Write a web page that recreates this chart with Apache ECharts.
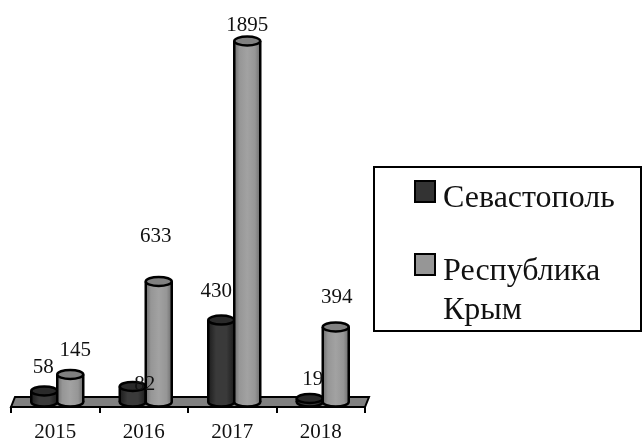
<!DOCTYPE html>
<html>
<head>
<meta charset="utf-8">
<title>chart</title>
<script src="https://cdn.jsdelivr.net/npm/echarts@6/dist/echarts.min.js"></script>
<style>
  html, body { margin: 0; padding: 0; background: #fff; }
  #chart { width: 642px; height: 441px; }
</style>
</head>
<body>
<div id="chart"></div>
<script>
const years = ['2015', '2016', '2017', '2018']
const sevastopol = [58, 82, 430, 19]
const crimea = [145, 633, 1895, 394]

const font = '"Liberation Serif", serif'
const { LinearGradient } = echarts.graphic

// the labels in the picture sit by hand around the bars, [dx, dy] from the bar top
const sevastopolLabelShift = [[-1, -23], [12, -2], [-5, -29], [3, -19]]
const crimeaLabelShift = [[5, -24], [-3, -45], [0, -16], [1, -29]]

const darkBody = new LinearGradient(0, 0, 1, 0, [
  { offset: 0, color: '#1c1c1c' },
  { offset: 0.3, color: '#3a3a3a' },
  { offset: 0.7, color: '#3a3a3a' },
  { offset: 1, color: '#1c1c1c' }
])
const lightBody = new LinearGradient(0, 0, 1, 0, [
  { offset: 0, color: '#6e6e6e' },
  { offset: 0.2, color: '#969696' },
  { offset: 0.5, color: '#a2a2a2' },
  { offset: 0.8, color: '#969696' },
  { offset: 1, color: '#6e6e6e' }
])

function cylinder (dx, body, top, shifts) {
  return (params, api) => {
    const i = api.value(0)
    const value = api.value(1)
    const base = api.coord([i, 0])
    const head = api.coord([i, value])
    const rx = 13
    const ry = 4.5
    const cx = base[0] + dx
    const line = { stroke: '#000', lineWidth: 2.5 }
    const shift = shifts[i]
    return {
      type: 'group',
      children: [
        { type: 'ellipse', shape: { cx, cy: base[1], rx, ry }, style: { fill: body, ...line } },
        { type: 'rect', shape: { x: cx - rx, y: head[1], width: rx * 2, height: base[1] - head[1] }, style: { fill: body } },
        { type: 'line', shape: { x1: cx - rx, y1: head[1], x2: cx - rx, y2: base[1] }, style: line },
        { type: 'line', shape: { x1: cx + rx, y1: head[1], x2: cx + rx, y2: base[1] }, style: line },
        { type: 'ellipse', shape: { cx, cy: head[1], rx, ry }, style: { fill: top, ...line } },
        {
          type: 'text',
          z2: 20,
          style: {
            text: String(value),
            x: cx + shift[0],
            y: head[1] + shift[1],
            align: 'center',
            verticalAlign: 'middle',
            fill: '#111',
            font: '21px ' + font
          }
        }
      ]
    }
  }
}

function floor (params) {
  const { x, y, width, height } = params.coordSys
  const bottom = y + height
  return {
    type: 'polygon',
    shape: {
      points: [[x, bottom + 5], [x + 4, bottom - 5], [x + width + 4, bottom - 5], [x + width, bottom + 5]]
    },
    style: { fill: '#808080', stroke: '#000', lineWidth: 2 }
  }
}

function legendSwatch (y, fill) {
  return {
    type: 'rect',
    shape: { x: 415, y, width: 20, height: 21 },
    style: { fill, stroke: '#000', lineWidth: 2 }
  }
}

function legendText (y, text) {
  return {
    type: 'text',
    style: { text, x: 443, y, verticalAlign: 'middle', fill: '#111', font: '32px ' + font }
  }
}

const chart = echarts.init(document.getElementById('chart'))
chart.setOption({
  animation: false,
  backgroundColor: '#fff',
  grid: { left: 11, right: 277, top: 21, bottom: 39, outerBoundsMode: 'none' },
  xAxis: {
    type: 'category',
    data: years,
    offset: 5,
    axisLine: { onZero: false, lineStyle: { color: '#000', width: 2 } },
    axisTick: { show: true, interval: 0, length: 6, lineStyle: { color: '#000', width: 2 } },
    axisLabel: { color: '#111', fontFamily: font, fontSize: 21, margin: 15 }
  },
  yAxis: { type: 'value', min: 0, max: 2000, show: false },
  graphic: [
    {
      type: 'rect',
      shape: { x: 374, y: 167, width: 267, height: 164 },
      style: { fill: 'none', stroke: '#000', lineWidth: 2 }
    },
    legendSwatch(181, '#333'),
    legendText(199, 'Севастополь'),
    legendSwatch(254, '#969696'),
    legendText(272, 'Республика'),
    legendText(311, 'Крым')
  ],
  series: [
    { type: 'custom', silent: true, renderItem: floor, data: [0], encode: { x: 0 } },
    {
      name: 'Севастополь',
      type: 'custom',
      silent: true,
      renderItem: cylinder(-11, darkBody, '#2a2a2a', sevastopolLabelShift),
      data: sevastopol.map((v, i) => [i, v]),
      encode: { x: 0, y: 1 }
    },
    {
      name: 'Республика Крым',
      type: 'custom',
      silent: true,
      renderItem: cylinder(15, lightBody, '#808080', crimeaLabelShift),
      data: crimea.map((v, i) => [i, v]),
      encode: { x: 0, y: 1 }
    }
  ]
})
</script>
</body>
</html>
